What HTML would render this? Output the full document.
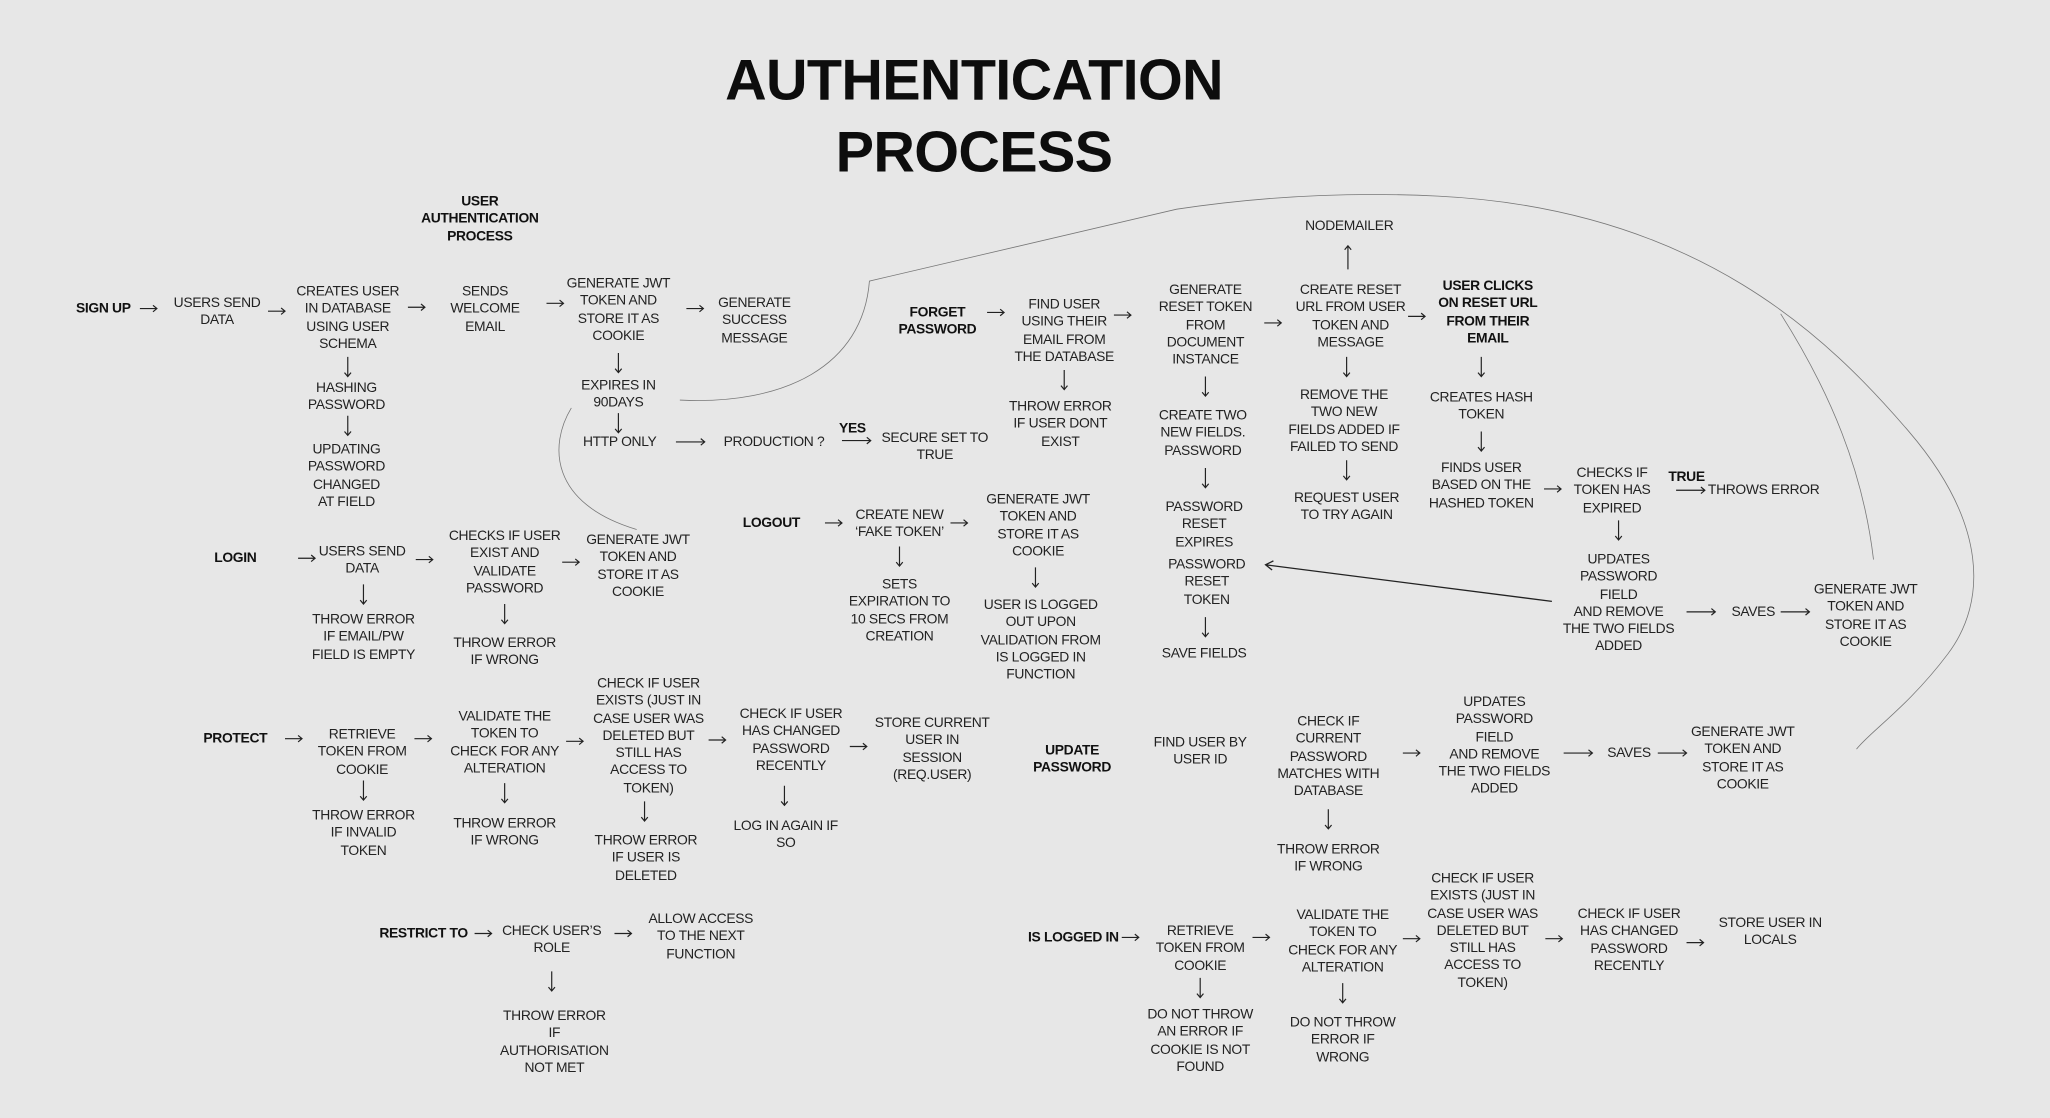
<!DOCTYPE html>
<html><head><meta charset="utf-8"><style>
html,body{margin:0;padding:0;background:#e7e7e7;}
#w{width:2050px;height:1118px;overflow:hidden;position:relative;background:#e7e7e7;}
#s{position:absolute;left:0;top:0;width:1568px;height:855px;transform:scale(1.30740);transform-origin:0 0;}
.t{position:absolute;transform:translateX(-50%);text-align:center;white-space:nowrap;font-family:"Liberation Sans",sans-serif;font-size:10.6px;line-height:13.3px;color:#222;letter-spacing:-0.25px;}
.b{font-weight:bold;color:#111;}
svg{position:absolute;left:0;top:0;}
</style></head><body><div id="w"><div id="s">
<div class="t b" style="left:745px;top:34px;font-size:44px;line-height:55px;letter-spacing:-0.5px;color:#0d0d0d">AUTHENTICATION<br>PROCESS</div>

<svg width="1568" height="855" fill="none" stroke="#777" stroke-width="0.6">
<path d="M520,306 C600,310 660,280 665,215 L900,160 Q1000,145 1100,150 C1300,160 1400,260 1460,330 C1520,400 1520,460 1490,500 C1460,540 1430,560 1420,573"/>
<path d="M437,312 C420,340 420,385 487,405"/>
<path d="M1362,240 C1400,300 1425,360 1433,428"/>
<path d="M1187,460 L968,432" stroke="#222" stroke-width="1"/>
<path d="M974,429 L968,432 L973,436" stroke="#222" stroke-width="1"/>
</svg>
<svg width="1568" height="855" fill="none" stroke="#222" stroke-width="0.9">
<defs><path id="r" d="M0,0 h13 M10,-2.5 L13,0 L10,2.5"/><path id="d" d="M0,0 v15 M-2.5,12 L0,15 L2.5,12"/><path id="rl" d="M0,0 h22 M19,-2.5 L22,0 L19,2.5"/></defs>
<use href="#r" x="107" y="236"/><use href="#r" x="205" y="238"/><use href="#r" x="312" y="235"/><use href="#r" x="418" y="232"/><use href="#r" x="525" y="236"/>
<use href="#r" x="228" y="427"/><use href="#r" x="318" y="428"/><use href="#r" x="430" y="430"/>
<use href="#r" x="631" y="400"/><use href="#r" x="727" y="400"/>
<use href="#r" x="755" y="239"/><use href="#r" x="852" y="241"/><use href="#r" x="967" y="247"/><use href="#r" x="1077" y="242"/>
<use href="#r" x="1181" y="374"/><use href="#rl" x="1282" y="375"/><use href="#rl" x="1290" y="468"/><use href="#rl" x="1362" y="468"/>
<use href="#rl" x="517" y="338"/><use href="#rl" x="644" y="337"/>
<use href="#r" x="218" y="565"/><use href="#r" x="317" y="565"/><use href="#r" x="433" y="567"/><use href="#r" x="542" y="566"/><use href="#r" x="650" y="571"/>
<use href="#r" x="1073" y="576"/><use href="#rl" x="1196" y="576"/><use href="#rl" x="1268" y="576"/>
<use href="#r" x="363" y="714"/><use href="#r" x="470" y="714"/>
<use href="#r" x="858" y="717"/><use href="#r" x="958" y="717"/><use href="#r" x="1073" y="718"/><use href="#r" x="1182" y="718"/><use href="#r" x="1290" y="721"/>
<use href="#d" x="266" y="273"/><use href="#d" x="266" y="318"/><use href="#d" x="473" y="270"/><use href="#d" x="473" y="316"/>
<use href="#d" x="278" y="447"/><use href="#d" x="386" y="462"/><use href="#d" x="688" y="418"/><use href="#d" x="792" y="434"/>
<use href="#d" x="814" y="283"/><use href="#d" x="922" y="288"/><use href="#d" x="922" y="358"/><use href="#d" x="922" y="472"/>
<use href="#d" x="1030" y="273"/><use href="#d" x="1030" y="352"/><use href="#d" x="1133" y="273"/><use href="#d" x="1133" y="330"/><use href="#d" x="1238" y="398"/>
<path d="M1031,206 v-18 M1028.5,191 L1031,188 L1033.5,191"/>
<use href="#d" x="278" y="597"/><use href="#d" x="386" y="599"/><use href="#d" x="493" y="613"/><use href="#d" x="600" y="601"/><use href="#d" x="1016" y="619"/>
<use href="#d" x="422" y="743"/><use href="#d" x="918" y="748"/><use href="#d" x="1027" y="752"/>
</svg>

<div class="t b" style="left:367px;top:148px">USER<br>AUTHENTICATION<br>PROCESS</div>
<div class="t b" style="left:79px;top:230px">SIGN UP</div>
<div class="t" style="left:166px;top:226px">USERS SEND<br>DATA</div>
<div class="t" style="left:266px;top:217px">CREATES USER<br>IN DATABASE<br>USING USER<br>SCHEMA</div>
<div class="t" style="left:265px;top:291px">HASHING<br>PASSWORD</div>
<div class="t" style="left:265px;top:338px">UPDATING<br>PASSWORD<br>CHANGED<br>AT FIELD</div>
<div class="t" style="left:371px;top:217px">SENDS<br>WELCOME<br>EMAIL</div>
<div class="t" style="left:473px;top:211px">GENERATE JWT<br>TOKEN AND<br>STORE IT AS<br>COOKIE</div>
<div class="t" style="left:577px;top:226px">GENERATE<br>SUCCESS<br>MESSAGE</div>
<div class="t" style="left:473px;top:289px">EXPIRES IN<br>90DAYS</div>
<div class="t" style="left:474px;top:332px">HTTP ONLY</div>
<div class="t" style="left:592px;top:332px">PRODUCTION ?</div>
<div class="t b" style="left:652px;top:322px">YES</div>
<div class="t" style="left:715px;top:329px">SECURE SET TO<br>TRUE</div>

<div class="t b" style="left:180px;top:421px">LOGIN</div>
<div class="t" style="left:277px;top:416px">USERS SEND<br>DATA</div>
<div class="t" style="left:278px;top:468px">THROW ERROR<br>IF EMAIL/PW<br>FIELD IS EMPTY</div>
<div class="t" style="left:386px;top:404px">CHECKS IF USER<br>EXIST AND<br>VALIDATE<br>PASSWORD</div>
<div class="t" style="left:386px;top:486px">THROW ERROR<br>IF WRONG</div>
<div class="t" style="left:488px;top:407px">GENERATE JWT<br>TOKEN AND<br>STORE IT AS<br>COOKIE</div>

<div class="t b" style="left:590px;top:394px">LOGOUT</div>
<div class="t" style="left:688px;top:388px">CREATE NEW<br>‘FAKE TOKEN’</div>
<div class="t" style="left:688px;top:441px">SETS<br>EXPIRATION TO<br>10 SECS FROM<br>CREATION</div>
<div class="t" style="left:794px;top:376px">GENERATE JWT<br>TOKEN AND<br>STORE IT AS<br>COOKIE</div>
<div class="t" style="left:796px;top:457px">USER IS LOGGED<br>OUT UPON<br>VALIDATION FROM<br>IS LOGGED IN<br>FUNCTION</div>

<div class="t b" style="left:717px;top:233px">FORGET<br>PASSWORD</div>
<div class="t" style="left:814px;top:227px">FIND USER<br>USING THEIR<br>EMAIL FROM<br>THE DATABASE</div>
<div class="t" style="left:811px;top:305px">THROW ERROR<br>IF USER DONT<br>EXIST</div>
<div class="t" style="left:922px;top:216px">GENERATE<br>RESET TOKEN<br>FROM<br>DOCUMENT<br>INSTANCE</div>
<div class="t" style="left:920px;top:312px">CREATE TWO<br>NEW FIELDS.<br>PASSWORD</div>
<div class="t" style="left:921px;top:382px">PASSWORD<br>RESET<br>EXPIRES</div>
<div class="t" style="left:923px;top:426px">PASSWORD<br>RESET<br>TOKEN</div>
<div class="t" style="left:921px;top:494px">SAVE FIELDS</div>
<div class="t" style="left:1032px;top:167px">NODEMAILER</div>
<div class="t" style="left:1033px;top:216px">CREATE RESET<br>URL FROM USER<br>TOKEN AND<br>MESSAGE</div>
<div class="t" style="left:1028px;top:296px">REMOVE THE<br>TWO NEW<br>FIELDS ADDED IF<br>FAILED TO SEND</div>
<div class="t" style="left:1030px;top:375px">REQUEST USER<br>TO TRY AGAIN</div>
<div class="t b" style="left:1138px;top:213px">USER CLICKS<br>ON RESET URL<br>FROM THEIR<br>EMAIL</div>
<div class="t" style="left:1133px;top:298px">CREATES HASH<br>TOKEN</div>
<div class="t" style="left:1133px;top:352px">FINDS USER<br>BASED ON THE<br>HASHED TOKEN</div>
<div class="t" style="left:1233px;top:356px">CHECKS IF<br>TOKEN HAS<br>EXPIRED</div>
<div class="t b" style="left:1290px;top:359px">TRUE</div>
<div class="t" style="left:1349px;top:369px">THROWS ERROR</div>
<div class="t" style="left:1238px;top:422px">UPDATES<br>PASSWORD<br>FIELD<br>AND REMOVE<br>THE TWO FIELDS<br>ADDED</div>
<div class="t" style="left:1341px;top:462px">SAVES</div>
<div class="t" style="left:1427px;top:445px">GENERATE JWT<br>TOKEN AND<br>STORE IT AS<br>COOKIE</div>

<div class="t b" style="left:180px;top:559px">PROTECT</div>
<div class="t" style="left:277px;top:556px">RETRIEVE<br>TOKEN FROM<br>COOKIE</div>
<div class="t" style="left:278px;top:618px">THROW ERROR<br>IF INVALID<br>TOKEN</div>
<div class="t" style="left:386px;top:542px">VALIDATE THE<br>TOKEN TO<br>CHECK FOR ANY<br>ALTERATION</div>
<div class="t" style="left:386px;top:624px">THROW ERROR<br>IF WRONG</div>
<div class="t" style="left:496px;top:517px">CHECK IF USER<br>EXISTS (JUST IN<br>CASE USER WAS<br>DELETED BUT<br>STILL HAS<br>ACCESS TO<br>TOKEN)</div>
<div class="t" style="left:494px;top:637px">THROW ERROR<br>IF USER IS<br>DELETED</div>
<div class="t" style="left:605px;top:540px">CHECK IF USER<br>HAS CHANGED<br>PASSWORD<br>RECENTLY</div>
<div class="t" style="left:601px;top:626px">LOG IN AGAIN IF<br>SO</div>
<div class="t" style="left:713px;top:547px">STORE CURRENT<br>USER IN<br>SESSION<br>(REQ.USER)</div>

<div class="t b" style="left:820px;top:568px">UPDATE<br>PASSWORD</div>
<div class="t" style="left:918px;top:562px">FIND USER BY<br>USER ID</div>
<div class="t" style="left:1016px;top:546px">CHECK IF<br>CURRENT<br>PASSWORD<br>MATCHES WITH<br>DATABASE</div>
<div class="t" style="left:1016px;top:644px">THROW ERROR<br>IF WRONG</div>
<div class="t" style="left:1143px;top:531px">UPDATES<br>PASSWORD<br>FIELD<br>AND REMOVE<br>THE TWO FIELDS<br>ADDED</div>
<div class="t" style="left:1246px;top:570px">SAVES</div>
<div class="t" style="left:1333px;top:554px">GENERATE JWT<br>TOKEN AND<br>STORE IT AS<br>COOKIE</div>

<div class="t b" style="left:324px;top:708px">RESTRICT TO</div>
<div class="t" style="left:422px;top:706px">CHECK USER’S<br>ROLE</div>
<div class="t" style="left:536px;top:697px">ALLOW ACCESS<br>TO THE NEXT<br>FUNCTION</div>
<div class="t" style="left:424px;top:771px">THROW ERROR<br>IF<br>AUTHORISATION<br>NOT MET</div>

<div class="t b" style="left:821px;top:711px">IS LOGGED IN</div>
<div class="t" style="left:918px;top:706px">RETRIEVE<br>TOKEN FROM<br>COOKIE</div>
<div class="t" style="left:918px;top:770px">DO NOT THROW<br>AN ERROR IF<br>COOKIE IS NOT<br>FOUND</div>
<div class="t" style="left:1027px;top:694px">VALIDATE THE<br>TOKEN TO<br>CHECK FOR ANY<br>ALTERATION</div>
<div class="t" style="left:1027px;top:776px">DO NOT THROW<br>ERROR IF<br>WRONG</div>
<div class="t" style="left:1134px;top:666px">CHECK IF USER<br>EXISTS (JUST IN<br>CASE USER WAS<br>DELETED BUT<br>STILL HAS<br>ACCESS TO<br>TOKEN)</div>
<div class="t" style="left:1246px;top:693px">CHECK IF USER<br>HAS CHANGED<br>PASSWORD<br>RECENTLY</div>
<div class="t" style="left:1354px;top:700px">STORE USER IN<br>LOCALS</div>
</div></div></body></html>
